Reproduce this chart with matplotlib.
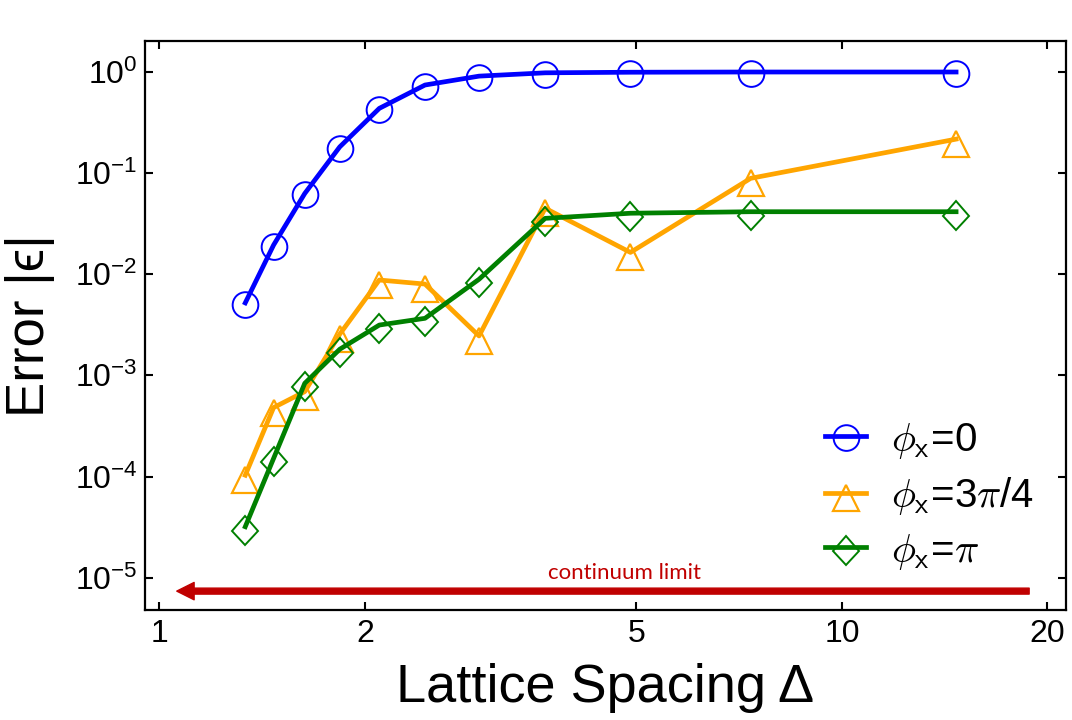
import matplotlib
matplotlib.use('Agg')
import matplotlib.pyplot as plt
from matplotlib.markers import MarkerStyle
from matplotlib.transforms import Affine2D

# lattice spacing values (shared by all three series)
delta = [1.336, 1.47, 1.633, 1.8375, 2.1, 2.45, 2.94, 3.675, 4.9, 7.35, 14.7]

err_phi0 = [5.2e-3, 0.0194, 0.0627, 0.181, 0.435, 0.74, 0.906, 0.977, 0.99, 0.995, 0.995]
err_phi34 = [1.03e-4, 4.8e-4, 6.9e-4, 2.55e-3, 8.75e-3, 7.98e-3, 2.45e-3, 0.0448, 0.0164, 0.0885, 0.216]
err_phipi = [3.19e-5, 1.51e-4, 8.34e-4, 1.81e-3, 3.14e-3, 3.66e-3, 8.9e-3, 0.0356, 0.040, 0.0414, 0.0414]

labels = [r'$\phi_\mathsf{x}$=0', r'$\phi_\mathsf{x}$=3$\pi$/4', r'$\phi_\mathsf{x}$=$\pi$']

xticks = [1, 2, 5, 10, 20]
yticks = [1e-5, 1e-4, 1e-3, 1e-2, 1e-1, 1e0]
ytick_labels = [r'$\mathregular{10^{-5}}$', r'$\mathregular{10^{-4}}$', r'$\mathregular{10^{-3}}$',
                r'$\mathregular{10^{-2}}$', r'$\mathregular{10^{-1}}$', r'$\mathregular{10^{0}}$']

plt.rcParams['font.family'] = ['Liberation Sans', 'DejaVu Sans']
plt.rcParams['mathtext.fontset'] = 'cm'

fig = plt.figure(figsize=(10.72, 7.2), dpi=100)
ax = fig.add_axes([0.1348, 0.1521, 0.8596, 0.7914])

# markers sit a few pixels below the line vertices in the original
m_circ = MarkerStyle('o', transform=Affine2D().translate(0, -0.06))
m_tri = MarkerStyle('^', transform=Affine2D().translate(0, -0.19))
m_dia = MarkerStyle('D', transform=Affine2D().scale(1, 1.1).translate(0, -0.2))

ax.plot(delta, err_phi0, color='#0000FF', lw=3.4, marker=m_circ, ms=18.5,
        mfc='none', mec='#0000FF', mew=1.4, label=labels[0])
ax.plot(delta, err_phi34, color='#FFA500', lw=3.4, marker=m_tri, ms=19,
        mfc='none', mec='#FFA500', mew=1.6, label=labels[1])
ax.plot(delta, err_phipi, color='#008000', lw=3.4, marker=m_dia, ms=13.5,
        mfc='none', mec='#008000', mew=1.4, label=labels[2])

ax.set_xscale('log')
ax.set_yscale('log')
ax.set_xlim(0.951, 21.3)
ax.set_ylim(4.74e-6, 2.03)
ax.set_xticks(xticks)
ax.set_xticklabels([str(t) for t in xticks])
ax.set_yticks(yticks)
ax.set_yticklabels(ytick_labels)
ax.minorticks_off()
ax.tick_params(which='both', direction='in', top=True, right=True,
               length=6, width=1.5, labelsize=23)
ax.tick_params(axis='y', pad=5)
ax.tick_params(axis='x', pad=6)
for s in ax.spines.values():
    s.set_linewidth(1.6)

ax.set_xlabel('Lattice Spacing Δ', fontsize=39, labelpad=10)
ax.set_ylabel('Error |ϵ|', fontsize=38, labelpad=14)

ax.annotate('', xy=(0.035, 0.034), xytext=(0.960, 0.034), xycoords='axes fraction',
            arrowprops=dict(color='#C00000', width=4.3, headwidth=12.5, headlength=12.5, shrink=0))
ax.text(0.521, 0.065, 'continuum limit', transform=ax.transAxes, color='#C00000',
        fontsize=16, family='Lato', ha='center', va='center')

ax.legend(loc='lower right', bbox_to_anchor=(0.982, 0.040), frameon=False,
          fontsize=29, handlelength=1.04, handletextpad=0.6, labelspacing=0.36,
          borderaxespad=0)

fig.savefig('out.png', dpi=100)
